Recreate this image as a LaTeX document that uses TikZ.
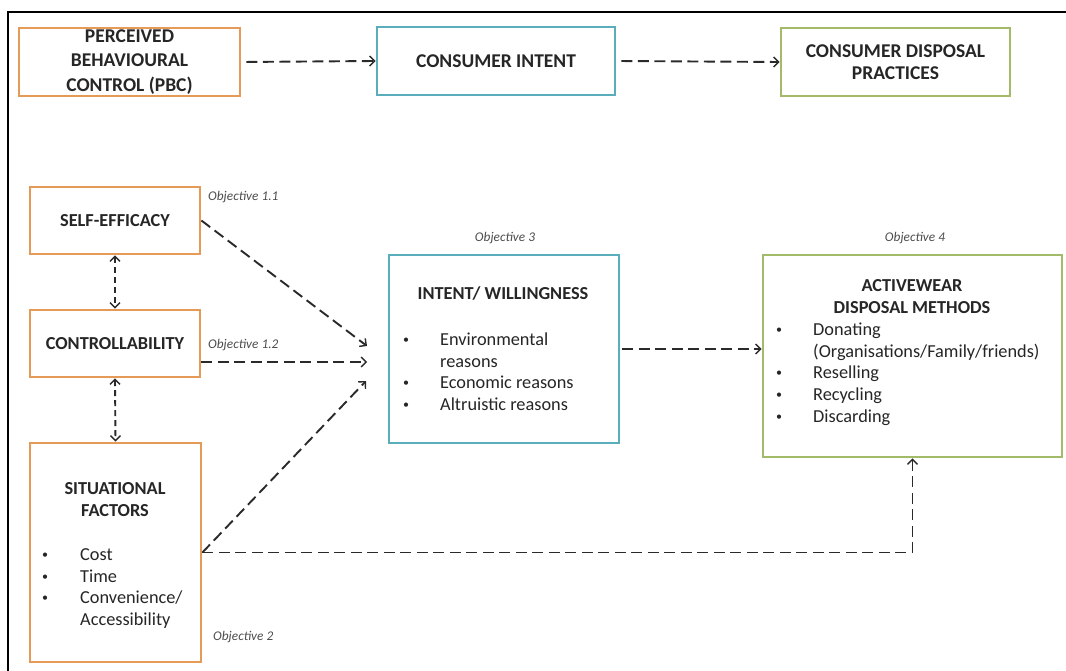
\documentclass[tikz,border=0pt]{standalone}
\usepackage{fontspec}
\setmainfont{Carlito}
\usetikzlibrary{arrows.meta}
\definecolor{boxorange}{HTML}{E59B57}
\definecolor{boxteal}{HTML}{5AADBB}
\definecolor{boxgreen}{HTML}{A3BB68}
\definecolor{txt}{HTML}{262626}
\definecolor{arr}{HTML}{2A2A2A}
\newcommand{\smbul}{{\fontsize{12}{12}\selectfont\raisebox{1.8pt}{•}}}
\tikzset{
  box/.style={draw, line width=2.8pt, inner sep=0pt, fill=white},
  ttl/.style={font=\bfseries\fontsize{18.3}{24.5}\selectfont, text=txt, align=center},
  ttltop/.style={font=\bfseries\fontsize{19.5}{24.5}\selectfont, text=txt, align=center},
  ttlb/.style={font=\bfseries\fontsize{18.3}{22}\selectfont, text=txt, anchor=base, inner sep=0pt},
  itm/.style={font=\fontsize{18.3}{21}\selectfont, text=txt, anchor=base west, inner sep=0pt},
  obj/.style={font=\itshape\fontsize{13.3}{15}\selectfont, text=black!70, inner sep=0pt},
  tip/.tip={Straight Barb[length=5pt,width=10pt,line width=1.4pt]},
  conn/.style={draw=arr, line width=1.9pt, dash pattern=on 11pt off 5.5pt, -tip},
  dconn/.style={draw=arr, line width=1.9pt, dash pattern=on 6pt off 4pt, tip-tip}
}
\begin{document}
\begin{tikzpicture}[x=1pt,y=-1pt]
\useasboundingbox (0,0) rectangle (1066,671);
\draw[line width=1.6pt] (8,671) -- (8,12) -- (1066,12);

% top row
\node[box, draw=boxorange, minimum width=221pt, minimum height=68pt, ttltop] (pbc) at (129.5,62) {PERCEIVED\\BEHAVIOURAL\\CONTROL (PBC)};
\node[box, draw=boxteal, minimum width=238pt, minimum height=68pt, ttltop] (ci) at (496,61) {CONSUMER INTENT};
\node[box, draw=boxgreen, minimum width=229pt, minimum height=68pt, ttltop, font=\bfseries\fontsize{19.5}{22.5}\selectfont] (cdp) at (895.5,62) {CONSUMER DISPOSAL\\PRACTICES};
\draw[conn, shorten <=5pt] (pbc.east) -- (ci.west);
\draw[conn, shorten <=5pt] (ci.east) -- (cdp.west);

% left column
\node[box, draw=boxorange, minimum width=170pt, minimum height=67pt, ttl] (se) at (115,220.5) {SELF-EFFICACY};
\node[box, draw=boxorange, minimum width=170pt, minimum height=67pt, ttl] (ctrl) at (115,343.5) {CONTROLLABILITY};
\node[box, draw=boxorange, minimum width=171pt, minimum height=219pt] (sf) at (115.5,552.5) {};
\node[ttlb] (sf1) at (115,494) {SITUATIONAL};
\node[ttlb] (sf2) at (115,516) {FACTORS};
\node[itm] (sfb1) at (42,560) {\smbul};
\node[itm] (sfb2) at (42,582) {\smbul};
\node[itm] (sfb3) at (42,603) {\smbul};
\node[itm] (sft1) at (80,560) {Cost};
\node[itm] (sft2) at (80,582) {Time};
\node[itm] (sft3) at (80,603) {Convenience/};
\node[itm] (sft4) at (80,625) {Accessibility};

% middle box
\node[box, draw=boxteal, minimum width=230pt, minimum height=188pt] (iw) at (504,349) {};
\node[ttlb] (iwt) at (503,299) {INTENT/ WILLINGNESS};
\node[itm] (iwb1) at (403,345) {\smbul};
\node[itm] (iwb2) at (403,388) {\smbul};
\node[itm] (iwb3) at (403,410) {\smbul};
\node[itm] (iwt1) at (440,345) {Environmental};
\node[itm] (iwt2) at (440,367) {reasons};
\node[itm] (iwt3) at (440,388) {Economic reasons};
\node[itm] (iwt4) at (440,410) {Altruistic reasons};

% right box
\node[box, draw=boxgreen, minimum width=299pt, minimum height=202pt] (aw) at (912.5,356) {};
\node[ttlb] (awt1) at (912,291) {ACTIVEWEAR};
\node[ttlb] (awt2) at (912,313) {DISPOSAL METHODS};
\node[itm] (awb1) at (776,335) {\smbul};
\node[itm] (awb2) at (776,378) {\smbul};
\node[itm] (awb3) at (776,400) {\smbul};
\node[itm] (awb4) at (776,422) {\smbul};
\node[itm] (awx1) at (813,335) {Donating};
\node[itm] (awx2) at (813,357) {(Organisations/Family/friends)};
\node[itm] (awx3) at (813,378) {Reselling};
\node[itm] (awx4) at (813,400) {Recycling};
\node[itm] (awx5) at (813,422) {Discarding};

% objectives
\node[obj, anchor=west] (o11) at (208,197) {Objective 1.1};
\node[obj, anchor=west] (o12) at (208,345) {Objective 1.2};
\node[obj, anchor=west] (o2) at (213,637) {Objective 2};
\node[obj] (o3) at (505,238) {Objective 3};
\node[obj] (o4) at (915,238) {Objective 4};

% connectors
\coordinate (t1) at (367,346);
\coordinate (t2) at (367,362);
\coordinate (t3) at (366,381);
\draw[conn] (se.east) -- (t1);
\draw[conn] (ctrl.east |- t2) -- (t2);
\draw[conn] (sf.east) -- (t3);
\draw[conn, shorten <=2pt] (iw.east) -- (iw.east -| aw.west);
\draw[conn] (sf.east) -| (aw.south);
\draw[dconn] (se.south) -- (ctrl.north);
\draw[dconn] (ctrl.south) -- (sf.north);
\end{tikzpicture}
\end{document}
